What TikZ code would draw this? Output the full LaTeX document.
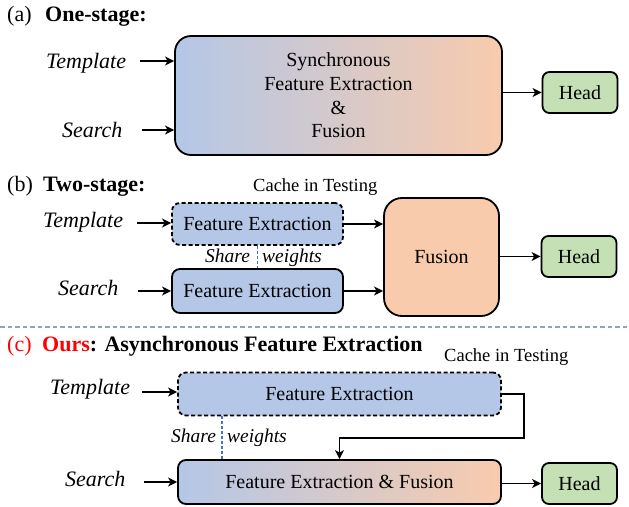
\documentclass[tikz,border=0pt]{standalone}
\usepackage{fontspec}
\newfontfamily\tnr{Liberation Serif}
\usetikzlibrary{arrows.meta,calc}
\definecolor{cblue}{HTML}{B4C7E7}
\definecolor{corange}{HTML}{F8CBAD}
\definecolor{cgreen}{HTML}{C5E0B4}
\definecolor{cshare}{HTML}{4472C4}
\definecolor{csep}{HTML}{8EA3C2}
\begin{document}
\begin{tikzpicture}[x=1pt,y=-1pt,
  box/.style={draw=black, line width=1.8pt, rounded corners=8pt, inner sep=0pt, align=center,
              font=\tnr\fontsize{20}{24}\selectfont},
  cachebox/.style={box, dash pattern=on 4pt off 2.5pt},
  headbox/.style={box, fill=cgreen, minimum width=75pt, minimum height=41pt, rounded corners=7pt},
  lbl/.style={anchor=base west, inner sep=0pt, font=\tnr\fontsize{22}{26}\selectfont\itshape},
  hd/.style={anchor=base west, inner sep=0pt, font=\tnr\fontsize{22}{26}\selectfont},
  note/.style={anchor=base west, inner sep=0pt, font=\tnr\fontsize{18.5}{22}\selectfont},
  share/.style={anchor=base west, inner sep=0pt, font=\tnr\fontsize{19.5}{23}\selectfont\itshape},
  arr/.style={line width=1.8pt, -{Stealth[length=9pt,width=9pt,inset=2.5pt]}},
  sharel/.style={cshare, line width=1.3pt, dash pattern=on 3pt off 2pt},
]
\useasboundingbox (0,0) rectangle (629,506);

% ---------- (a) ----------
\node[hd] (ha1) at (7,21) {(a)};
\node[hd] (ha2) at (45,21) {\textbf{One-stage:}};
\node[box, rounded corners=16pt, minimum width=327pt, minimum height=119pt,
      left color=cblue, right color=corange, font=\tnr\fontsize{20}{23.7}\selectfont]
  (big) at (338.5,95.5) {Synchronous\\Feature Extraction\\\&\\Fusion};
\node[lbl] (ta) at (46,68) {Template};
\node[lbl] (sa) at (62,137) {Search};
\coordinate (tas) at (140,61);
\coordinate (sas) at (142,130);
\draw[arr] (tas) -- (tas -| big.west);
\draw[arr] (sas) -- (sas -| big.west);
\node[headbox] (heada) at (580,92.5) {Head};
\draw[arr] (big.east |- heada) -- (heada.west);

% ---------- (b) ----------
\node[hd] (hb1) at (7,191) {(b)};
\node[hd] (hb2) at (43,191) {\textbf{Two-stage:}};
\node[note] (cb) at (253,191) {Cache in Testing};
\node[cachebox, fill=cblue, minimum width=171pt, minimum height=42pt] (fetb) at (257.5,224) {Feature Extraction};
\node[box, fill=cblue, minimum width=171pt, minimum height=44pt] (fesb) at (257.5,291) {Feature Extraction};
\node[lbl] (tb) at (43,227) {Template};
\node[lbl] (sb) at (58,295) {Search};
\coordinate (tbs) at (137,223);
\coordinate (sbs) at (138,291);
\draw[arr] (tbs) -- (fetb.west |- tbs);
\draw[arr] (sbs) -- (fesb.west |- sbs);
\node[share] (shb) at (205,262) {Share};
\node[share] (wb) at (262,262) {weights};
\draw[sharel] (fetb.south) -- (fesb.north);
\node[box, fill=corange, rounded corners=18pt, minimum width=115pt, minimum height=118pt] (fus) at (441.5,257) {Fusion};
\draw[arr] (fetb.east) -- (fetb.east -| fus.west);
\draw[arr] (fesb.east) -- (fesb.east -| fus.west);
\node[headbox] (headb) at (579,256.5) {Head};
\draw[arr] (fus.east |- headb) -- (headb.west);

% ---------- separator ----------
\coordinate (sepl) at (0,327);
\coordinate (sepr) at (629,327);
\draw[csep, line width=1.1pt, dash pattern=on 4.5pt off 3pt] (sepl) -- (sepr);

% ---------- (c) ----------
\node[hd, text=red] (hc1) at (7,351) {(c)};
\node[hd] (hc2) at (42,351) {\textbf{\textcolor{red}{Ours}: Asynchronous Feature Extraction}};
\node[note] (cc) at (444,361) {Cache in Testing};
\node[cachebox, fill=cblue, minimum width=323pt, minimum height=43pt] (fetc) at (339.5,394) {Feature Extraction};
\node[box, left color=cblue, right color=corange, minimum width=323pt, minimum height=44pt] (fefc) at (339.5,482) {Feature Extraction \& Fusion};
\node[lbl] (tc) at (50,394) {Template};
\node[lbl] (sc) at (65,486) {Search};
\coordinate (tcs) at (142,392);
\coordinate (scs) at (144,482);
\draw[arr] (tcs) -- (fetc.west |- tcs);
\draw[arr] (scs) -- (fefc.west |- scs);
\node[share] (shc) at (171,442) {Share};
\node[share] (wc) at (227,442) {weights};
\coordinate (shx) at (222,0);
\draw[sharel] (fetc.south -| shx) -- (fefc.north -| shx);
\coordinate (k1) at (524,438);
\draw[arr, rounded corners=0pt] (fetc.east) -| (k1) -| (fefc.north);
\node[headbox] (headc) at (579.5,483.5) {Head};
\draw[arr] (fefc.east |- headc) -- (headc.west);
\end{tikzpicture}
\end{document}
